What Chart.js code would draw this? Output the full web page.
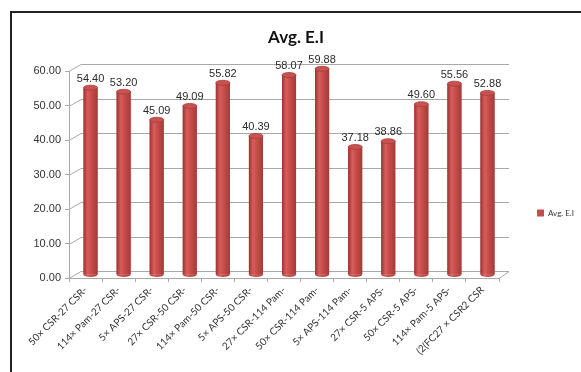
<!DOCTYPE html>
<html>
<head>
<meta charset="utf-8">
<script src="https://cdn.jsdelivr.net/npm/chart.js"></script>
<style>
  html, body { margin: 0; padding: 0; background: #fff; }
  #wrap { width: 581px; height: 372px; }
</style>
</head>
<body>
<div id="wrap"><canvas id="chart" width="581" height="372"></canvas></div>
<script>
const categories = [
  '50× CSR-27 CSR-', '114× Pam-27 CSR-', '5× APS-27 CSR-', '27× CSR-50 CSR-',
  '114× Pam-50 CSR-', '5× APS-50 CSR-', '27× CSR-114 Pam-', '50× CSR-114 Pam-',
  '5× APS-114 Pam-', '27× CSR-5 APS-', '50× CSR-5 APS-', '114× Pam-5 APS-',
  '(2(FC27 × CSR2 CSR'
];
const avgEI = [54.40, 53.20, 45.09, 49.09, 55.82, 40.39, 58.07, 59.88, 37.18, 38.86, 49.60, 55.56, 52.88];
const yTicks = [0, 10, 20, 30, 40, 50, 60];

const gridGray = '#a9a9a9';
const depthX = 12, depthY = 7;       // back wall offset
const barShiftX = 5, barShiftY = -3; // bars sit mid-depth

// frame, back wall and floor
const wallPlugin = {
  id: 'wall',
  beforeDraw(chart) {
    const ctx = chart.ctx;
    ctx.save();
    ctx.strokeStyle = '#222';
    ctx.lineWidth = 2;
    ctx.beginPath();
    ctx.moveTo(11, 400);
    ctx.lineTo(11, 12);
    ctx.lineTo(600, 12);
    ctx.stroke();
    ctx.restore();
  },
  beforeDatasetsDraw(chart) {
    const { ctx, chartArea, scales } = chart;
    const y = scales.y;
    ctx.save();
    ctx.strokeStyle = gridGray;
    ctx.lineWidth = 1;
    yTicks.forEach(v => {
      const py = Math.round(y.getPixelForValue(v)) + 0.5;
      ctx.beginPath();
      ctx.moveTo(chartArea.left, py);
      ctx.lineTo(chartArea.left + depthX, py - depthY);
      ctx.lineTo(chartArea.right + depthX - 2, py - depthY);
      ctx.stroke();
    });
    const pb = Math.round(y.getPixelForValue(0)) + 0.5;
    ctx.beginPath();
    ctx.moveTo(chartArea.right, pb);
    ctx.lineTo(chartArea.right + depthX - 2, pb - depthY);
    ctx.stroke();
    ctx.restore();
    ctx.save();
    ctx.translate(barShiftX, barShiftY);
  },
  afterDatasetsDraw(chart) {
    const ctx = chart.ctx;
    const meta = chart.getDatasetMeta(0);
    meta.data.forEach((bar, i) => {
      const w = bar.width, x0 = bar.x - w / 2, top = bar.y, base = bar.base;
      const ry = 2.5;
      const g = ctx.createLinearGradient(x0, 0, x0 + w, 0);
      g.addColorStop(0, '#9c3331');
      g.addColorStop(0.3, '#d65e5b');
      g.addColorStop(0.55, '#c94d4a');
      g.addColorStop(1, '#a23b39');
      ctx.fillStyle = g;
      ctx.fillRect(x0, top, w, base - top);
      // rounded bottom
      ctx.beginPath();
      ctx.ellipse(bar.x, base, w / 2, ry, 0, 0, Math.PI);
      ctx.fill();
      // top cap
      ctx.beginPath();
      ctx.ellipse(bar.x, top, w / 2, ry, 0, 0, Math.PI * 2);
      ctx.fillStyle = '#c9524f';
      ctx.fill();
      ctx.strokeStyle = '#a63d3b';
      ctx.lineWidth = 0.8;
      ctx.stroke();
      // value label
      ctx.fillStyle = '#2b2b2b';
      ctx.font = '11px "Liberation Sans", Arial, sans-serif';
      ctx.textAlign = 'center';
      ctx.textBaseline = 'middle';
      ctx.fillText(avgEI[i].toFixed(2), bar.x, top - 9);
    });
    ctx.restore();
  },
  afterLayout(chart) {
    const lg = chart.legend;
    if (lg) {
      lg.left += 28; lg.right += 28;
      lg.top += 27; lg.bottom += 27;
    }
    const tb = chart.titleBlock;
    if (tb) {
      tb.left += 12; tb.right += 12;
    }
  }
};

new Chart(document.getElementById('chart'), {
  type: 'bar',
  data: {
    labels: categories,
    datasets: [{
      label: 'Avg. E.I',
      data: avgEI,
      backgroundColor: '#c0504d',
      borderWidth: 0,
      barPercentage: 0.85,
      categoryPercentage: 0.5
    }]
  },
  options: {
    responsive: false,
    animation: false,
    layout: { padding: { left: 12, right: 25, top: 0, bottom: 0 } },
    plugins: {
      title: {
        display: true,
        text: 'Avg. E.I',
        color: '#111',
        font: { family: 'Lato', size: 17, weight: 'bold' },
        padding: { top: 27, bottom: 24 }
      },
      legend: {
        position: 'right',
        labels: {
          boxWidth: 7,
          boxHeight: 7,
          color: '#333',
          padding: 10,
          font: { family: 'Lato', size: 8 }
        }
      },
      tooltip: { enabled: false }
    },
    scales: {
      x: {
        grid: { drawOnChartArea: false, color: gridGray, tickLength: 4 },
        border: { color: gridGray },
        ticks: {
          color: '#333',
          font: { family: 'Lato', size: 10 },
          minRotation: 45,
          maxRotation: 45,
          padding: 2
        },
        afterFit(scale) { scale.height = 94; }
      },
      y: {
        min: 0,
        max: 60,
        grid: { drawOnChartArea: false, color: gridGray, tickLength: 4 },
        border: { color: gridGray },
        ticks: {
          stepSize: 10,
          color: '#333',
          padding: 4,
          font: { family: '"Liberation Sans", Arial, sans-serif', size: 11 },
          callback: v => v.toFixed(2)
        },
        afterFit(scale) { scale.width = 57; }
      }
    }
  },
  plugins: [wallPlugin]
});
</script>
</body>
</html>
